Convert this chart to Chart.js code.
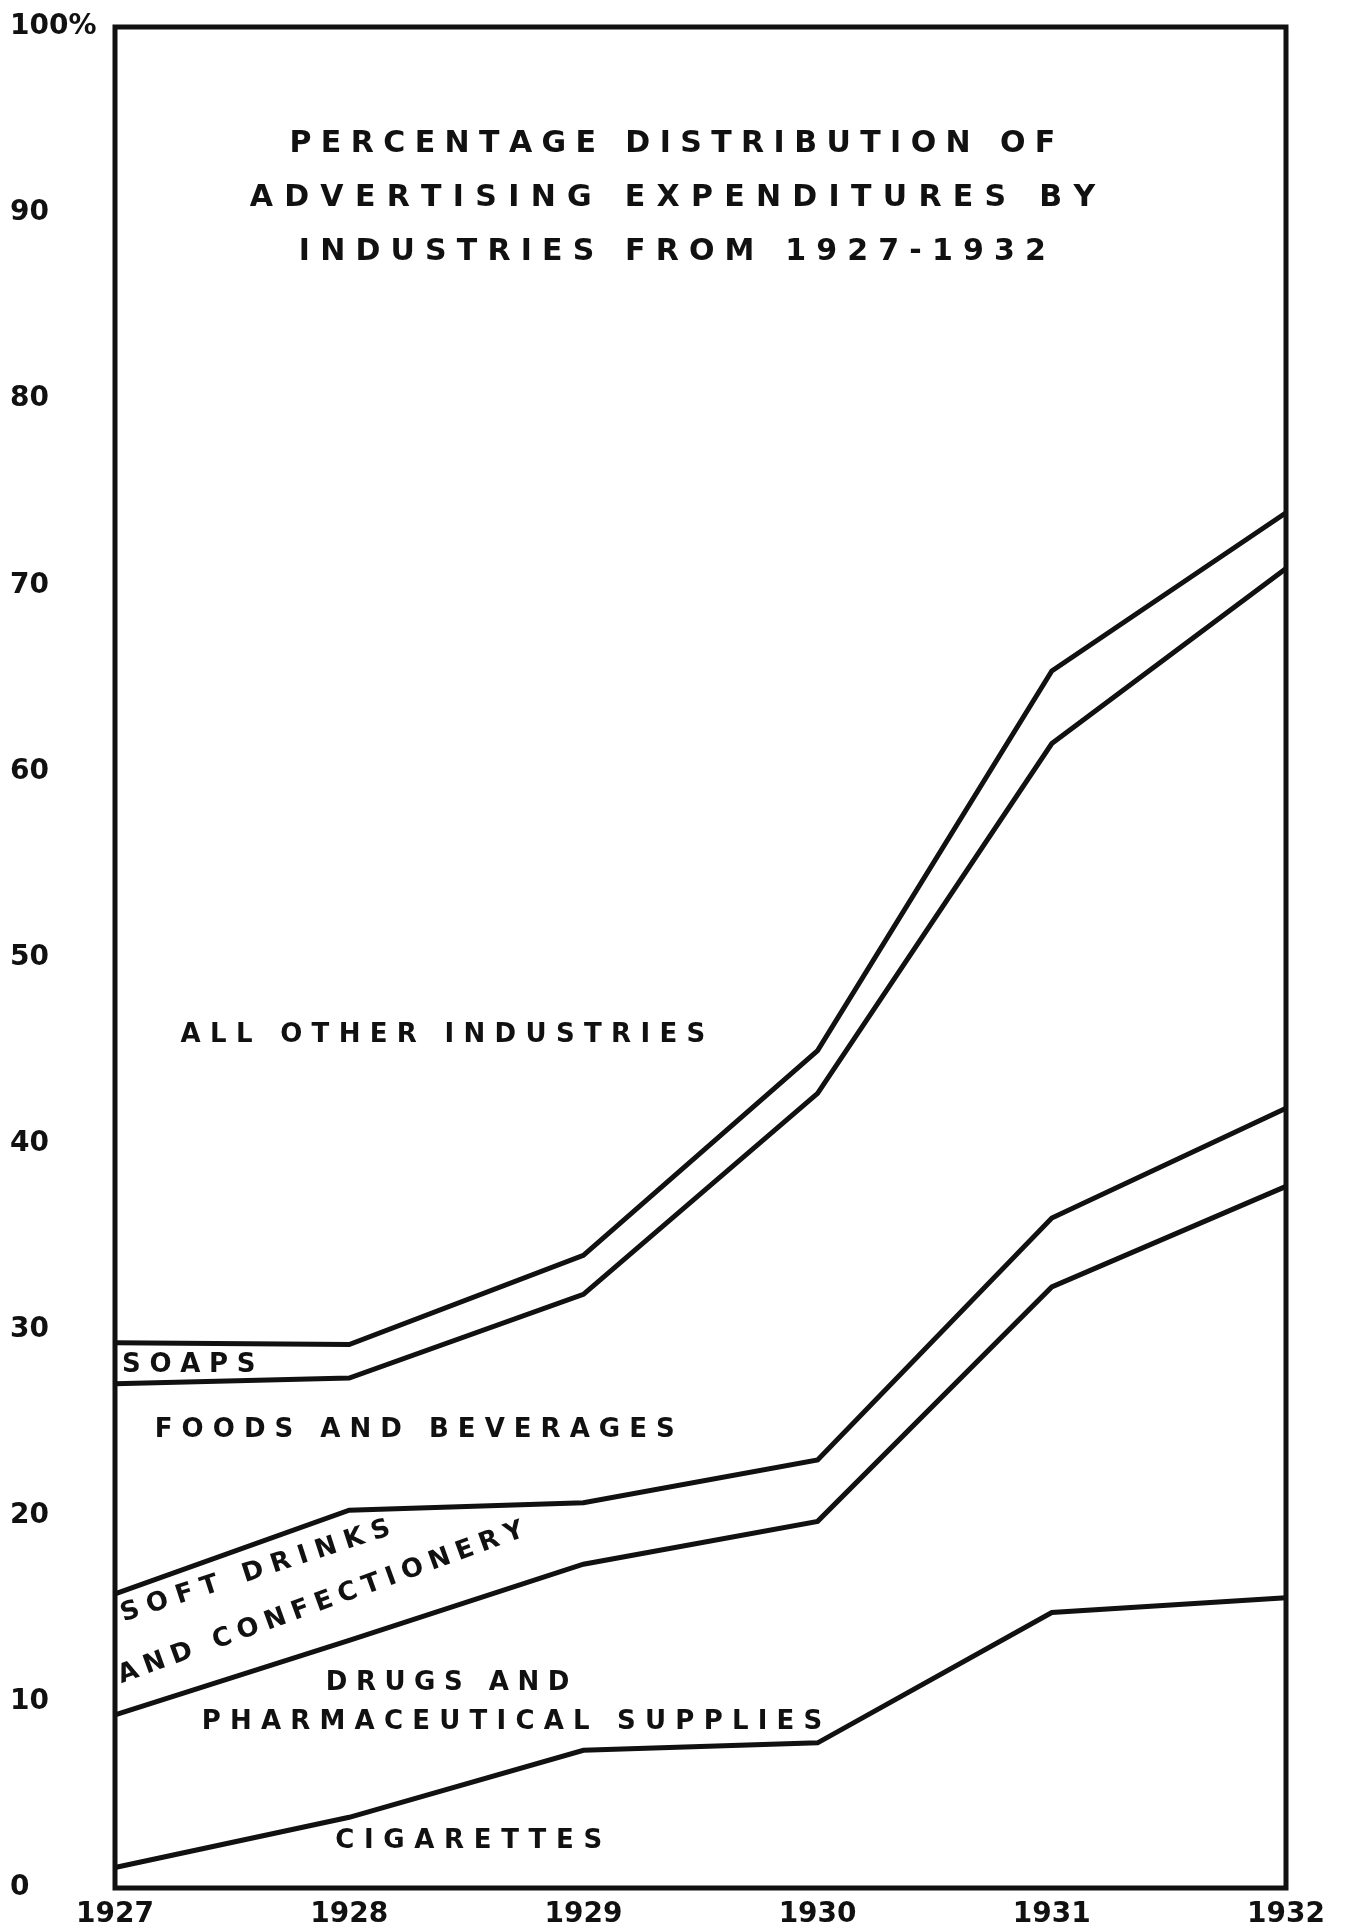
<!DOCTYPE html>
<html>
<head>
<meta charset="utf-8">
<script src="https://cdn.jsdelivr.net/npm/chart.js@4"></script>
<style>
  body { margin: 0; background: #fff; }
  canvas { display: block; }
</style>
</head>
<body>
<canvas id="chart" width="1346" height="1932"></canvas>
<script>
// years on the x axis
const years = ['1927', '1928', '1929', '1930', '1931', '1932'];
// y axis ticks (percent)
const yTicks = [0, 10, 20, 30, 40, 50, 60, 70, 80, 90, 100];

// cumulative percentage boundaries (top edge of each band)
const cigarettes = [1.1, 3.8, 7.4, 7.8, 14.8, 15.6];
const drugsPharma = [9.3, 13.3, 17.4, 19.7, 32.3, 37.7];
const softDrinksConf = [15.8, 20.3, 20.7, 23.0, 36.0, 41.9];
const foodsBeverages = [27.1, 27.4, 31.9, 42.7, 61.5, 70.9];
const soaps = [29.3, 29.2, 34.0, 45.0, 65.4, 73.9];

const titleLines = [
  'PERCENTAGE DISTRIBUTION OF',
  'ADVERTISING EXPENDITURES BY',
  'INDUSTRIES FROM 1927-1932'
];

const INK = '#111';

// band labels, placed in axis units (category index / percent)
const bandLabels = [
  { text: 'ALL OTHER INDUSTRIES', from: 0.28, to: 2.52, y: 45.8 },
  { text: 'SOAPS', from: 0.03, to: 0.6, y: 28.1 },
  { text: 'FOODS AND BEVERAGES', from: 0.17, to: 2.39, y: 24.6 },
  { text: 'DRUGS AND', from: 0.9, to: 1.94, y: 11.0 },
  { text: 'PHARMACEUTICAL SUPPLIES', from: 0.37, to: 3.02, y: 8.9 },
  { text: 'CIGARETTES', from: 0.94, to: 2.08, y: 2.5 }
];
const slantLabels = [
  { text: 'SOFT DRINKS', at: 0.6, y: 17.0, len: 282, angle: -18 },
  { text: 'AND CONFECTIONERY', at: 0.88, y: 15.3, len: 430, angle: -20 }
];

function spaced(ctx, text, cx, cy, width, angle) {
  const chars = [...text];
  const w = chars.map(c => ctx.measureText(c).width);
  const total = w.reduce((a, b) => a + b, 0);
  const gap = (width - total) / (chars.length - 1);
  ctx.save();
  ctx.translate(cx, cy);
  ctx.rotate((angle || 0) * Math.PI / 180);
  let x = -width / 2;
  chars.forEach((c, i) => {
    ctx.fillText(c, x, 0);
    x += w[i] + gap;
  });
  ctx.restore();
}

const decor = {
  id: 'decor',
  afterDraw(chart) {
    const { ctx, chartArea: a, scales: { x, y } } = chart;
    ctx.save();
    // frame
    ctx.strokeStyle = INK;
    ctx.lineWidth = 5;
    ctx.strokeRect(a.left, a.top, a.right - a.left, a.bottom - a.top);

    ctx.fillStyle = INK;
    ctx.textAlign = 'left';
    ctx.textBaseline = 'middle';

    // title inside the plot
    ctx.font = 'bold 30px "DejaVu Sans"';
    const titleY = [93.7, 90.8, 87.9];
    const titleW = [3.27, 3.61, 3.19];
    titleLines.forEach((t, i) => {
      const cx = x.getPixelForValue(2.38);
      const w = x.getPixelForValue(titleW[i]) - x.getPixelForValue(0);
      spaced(ctx, t, cx, y.getPixelForValue(titleY[i]), w, 0);
    });

    ctx.font = 'bold 26px "DejaVu Sans"';
    bandLabels.forEach(l => {
      const x0 = x.getPixelForValue(l.from);
      const x1 = x.getPixelForValue(l.to);
      spaced(ctx, l.text, (x0 + x1) / 2, y.getPixelForValue(l.y), x1 - x0, 0);
    });
    slantLabels.forEach(l => {
      spaced(ctx, l.text, x.getPixelForValue(l.at), y.getPixelForValue(l.y), l.len, l.angle);
    });
    ctx.restore();
  }
};

function band(data) {
  return {
    data: data,
    borderColor: INK,
    borderWidth: 5,
    pointRadius: 0,
    tension: 0,
    fill: false
  };
}

new Chart(document.getElementById('chart'), {
  type: 'line',
  data: {
    labels: years,
    datasets: [cigarettes, drugsPharma, softDrinksConf, foodsBeverages, soaps].map(band)
  },
  options: {
    responsive: false,
    animation: false,
    layout: { padding: { top: 27, right: 60, left: 10, bottom: 2 } },
    scales: {
      x: {
        grid: { display: false, drawTicks: false },
        border: { display: false },
        ticks: {
          color: INK,
          padding: 10,
          maxRotation: 0,
          font: { family: 'DejaVu Sans', weight: 'bold', size: 28 }
        },
        afterFit: s => { s.height = 42; }
      },
      y: {
        min: 0,
        max: 100,
        afterBuildTicks: s => { s.ticks = yTicks.map(v => ({ value: v })); },
        grid: { display: false, drawTicks: false },
        border: { display: false },
        ticks: {
          color: INK,
          crossAlign: 'far',
          font: { family: 'DejaVu Sans', weight: 'bold', size: 28 },
          callback: v => v === 100 ? '100%' : v
        },
        afterFit: s => { s.width = 105; }
      }
    },
    plugins: {
      legend: { display: false },
      tooltip: { enabled: false }
    }
  },
  plugins: [decor]
});
</script>
</body>
</html>
